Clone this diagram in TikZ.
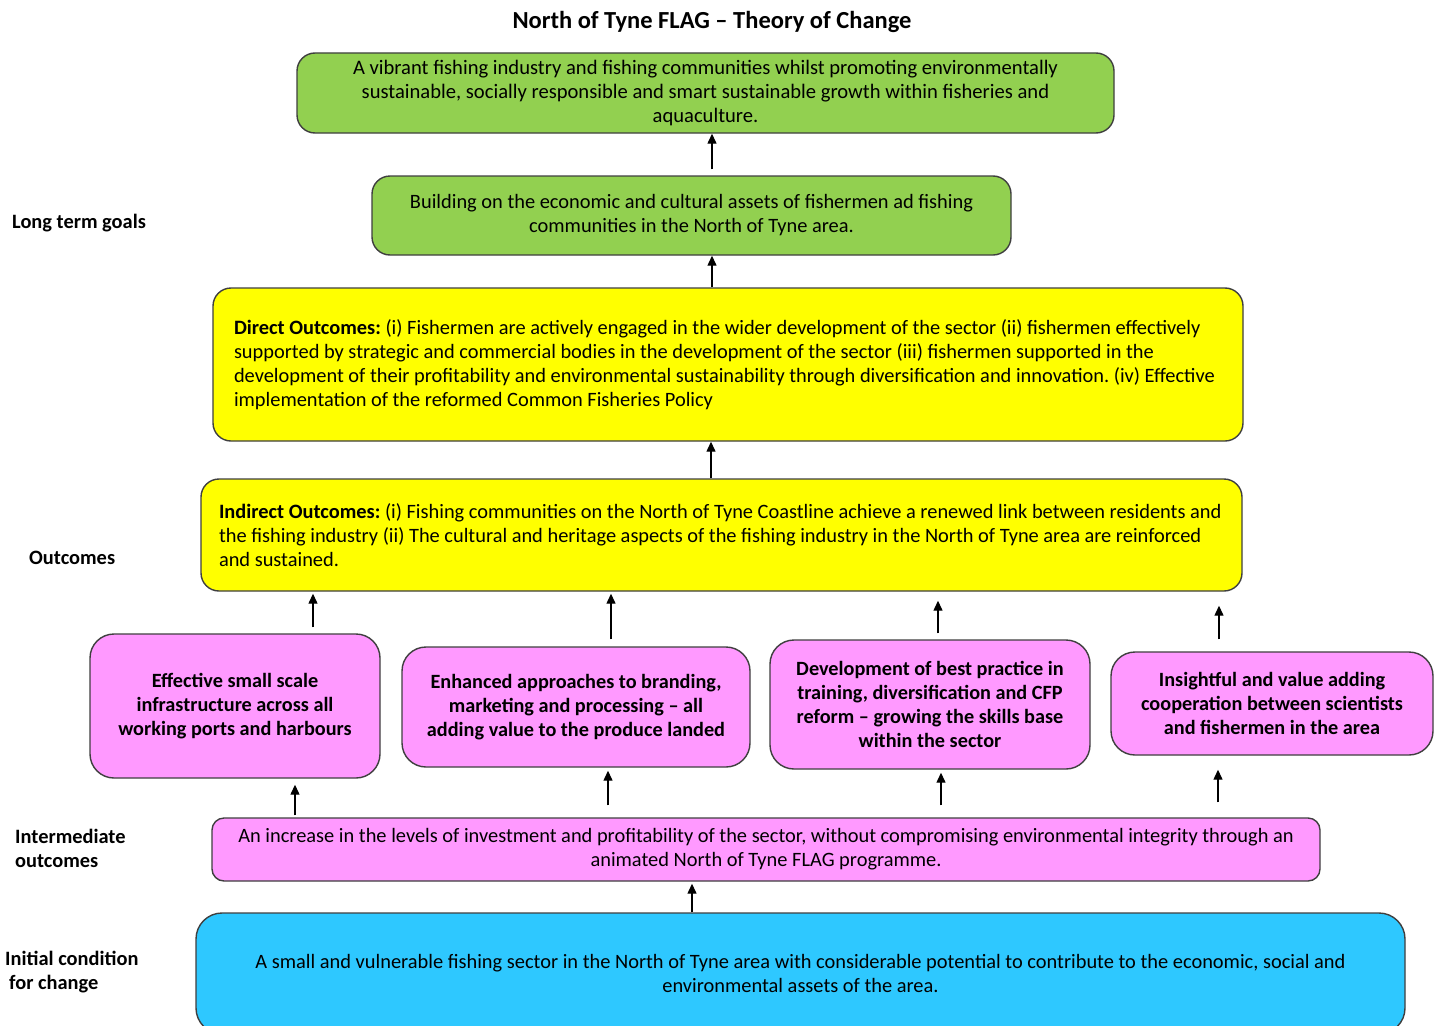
\documentclass[tikz,border=0pt]{standalone}
\usepackage{fontspec}
\setmainfont{Carlito}
\usetikzlibrary{arrows.meta}
\definecolor{goalgreen}{HTML}{92D050}
\definecolor{outyellow}{HTML}{FFFF00}
\definecolor{midpink}{HTML}{FF99FF}
\definecolor{startblue}{HTML}{2EC8FF}
\definecolor{edgegray}{HTML}{3F3F3F}
\frenchspacing
\newcommand\outspace{\spaceskip=0.225em plus 0.05em minus 0.06em\relax\hyphenpenalty=10000\relax}

\begin{document}
\begin{tikzpicture}[x=1pt, y=-1pt, font=\fontsize{20.4}{24}\selectfont,
  box/.style={draw=edgegray, line width=1.4pt, rounded corners=18pt, align=center, inner sep=0pt},
  goal/.style={box, fill=goalgreen},
  outc/.style={box, fill=outyellow, align=left, execute at begin node=\outspace},
  interm/.style={box, fill=midpink, rounded corners=24pt, font=\fontsize{20.25}{24}\selectfont\bfseries},
  start/.style={box, fill=startblue, rounded corners=26pt},
  side/.style={anchor=west, align=left, inner sep=0pt, font=\fontsize{20.4}{24}\selectfont\bfseries},
  arr/.style={-{Triangle[width=9pt,length=10pt]}, line width=1.3pt}]

\useasboundingbox (0,0) rectangle (1439,1025);

% ===== Title and side labels =====
\node[font=\fontsize{24.5}{28}\selectfont\bfseries] (title) at (712,22) {North of Tyne FLAG -- Theory of Change};
\node[side] (lblgoals) at (12,223) {Long term goals};
\node[side] (lblout) at (29,558) {Outcomes};
\node[side] (lblinterm) at (15,848) {Intermediate\\outcomes};
\node[side] (lblinit) at (5,972) {Initial condition\\\hspace*{4pt}for change};

% ===== Long term goals =====
\node[goal, font=\fontsize{20.6}{24}\selectfont, minimum width=817, minimum height=80] (vision) at (705.5,93)
  {A vibrant fishing industry and fishing communities whilst promoting environmentally\\
   sustainable, socially responsible and smart sustainable growth within fisheries and\\
   aquaculture.};
\node[goal, minimum width=639, minimum height=79] (assets) at (691.5,215.5)
  {Building on the economic and cultural assets of fishermen ad fishing\\
   communities in the North of Tyne area.};

% ===== Outcomes =====
\node[outc, inner xsep=21pt, text width=988pt, minimum height=153] (direct) at (728,364.5)
  {\textbf{Direct Outcomes:} (i) Fishermen are actively engaged in the wider development of the sector (ii) fishermen effectively\\
   supported by strategic and commercial bodies in the development of the sector (iii) fishermen supported in the\\
   development of their profitability and environmental sustainability through diversification and innovation. (iv) Effective\\
   implementation of the reformed Common Fisheries Policy};
\node[outc, inner xsep=18pt, text width=1005pt, minimum height=112] (indirect) at (721.5,535)
  {\textbf{Indirect Outcomes:} (i) Fishing communities on the North of Tyne Coastline achieve a renewed link between residents and\\
   the fishing industry (ii) The cultural and heritage aspects of the fishing industry in the North of Tyne area are reinforced\\
   and sustained.};

% ===== Intermediate outcomes =====
\node[interm, minimum width=290, minimum height=144] (infra) at (235,706)
  {Effective small scale\\infrastructure across all\\working ports and harbours};
\node[interm, minimum width=348, minimum height=120] (brand) at (576,707)
  {Enhanced approaches to branding,\\marketing and processing -- all\\adding value to the produce landed};
\node[interm, minimum width=320, minimum height=129] (skills) at (930,704.5)
  {Development of best practice in\\training, diversification and CFP\\reform -- growing the skills base\\within the sector};
\node[interm, minimum width=322, minimum height=103] (science) at (1272,703.5)
  {Insightful and value adding\\cooperation between scientists\\and fishermen in the area};
\node[interm, font=\fontsize{20.4}{24}\selectfont, rounded corners=12pt, minimum width=1108, minimum height=63] (invest) at (766,849.5)
  {An increase in the levels of investment and profitability of the sector, without compromising environmental integrity through an\\
   animated North of Tyne FLAG programme.};

% ===== Initial condition =====
\node[start, minimum width=1209, minimum height=121] (sector) at (800.5,973.5)
  {A small and vulnerable fishing sector in the North of Tyne area with considerable potential to contribute to the economic, social and\\
   environmental assets of the area.};

% ===== Arrows =====
\draw[arr, shorten <=6pt] (712,0 |- assets.north) -- (712,0 |- vision.south);
\draw[arr] (712,0 |- direct.north) -- (712,0 |- assets.south);
\draw[arr] (711,0 |- indirect.north) -- (711,0 |- direct.south);
\foreach \x/\n/\s/\e in {313/infra/6/2, 611/brand/7/2, 938/skills/6/9, 1219/science/12/14}
  \draw[arr, shorten <=\s pt, shorten >=\e pt] (\x,0 |- \n.north) -- (\x,0 |- indirect.south);
\foreach \x/\n/\s/\e in {295/infra/2/6, 608/brand/12/3, 941/skills/12/3, 1218/science/15/14}
  \draw[arr, shorten <=\s pt, shorten >=\e pt] (\x,0 |- invest.north) -- (\x,0 |- \n.south);
\draw[arr, shorten >=2pt] (692,0 |- sector.north) -- (692,0 |- invest.south);

\end{tikzpicture}
\end{document}
